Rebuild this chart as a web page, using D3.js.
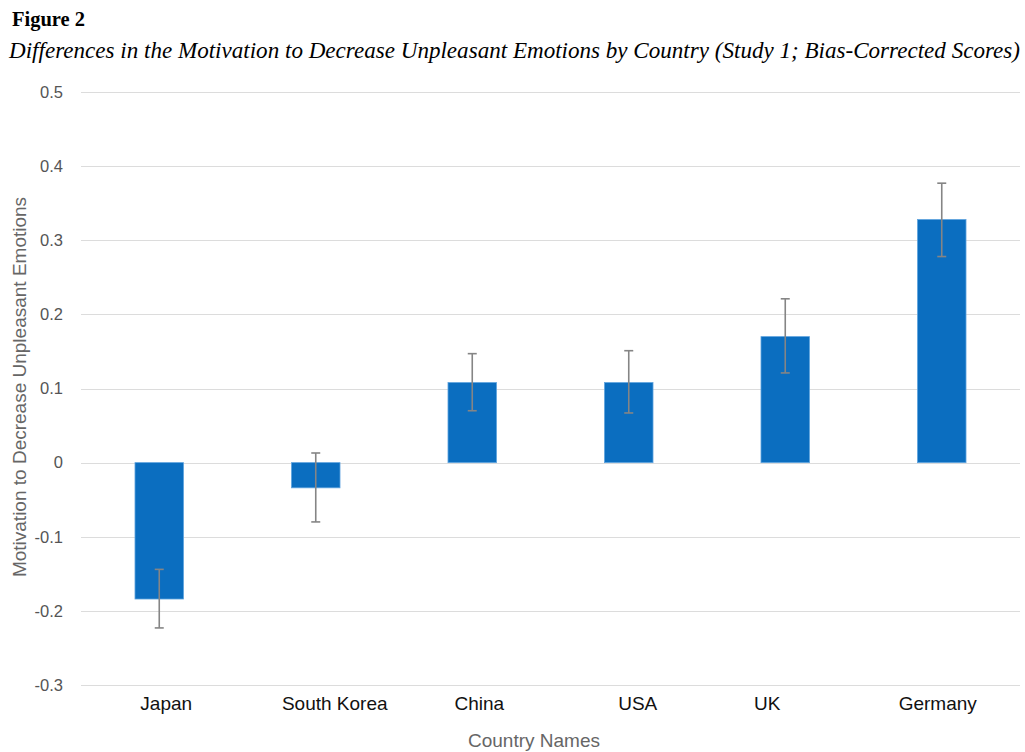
<!DOCTYPE html>
<html>
<head>
<meta charset="utf-8">
<script src="https://cdn.jsdelivr.net/npm/d3@7"></script>
<style>
  body { margin: 0; background: #fff; }
  svg { display: block; }
</style>
</head>
<body>
<div id="chart"></div>
<script>
// values
var countries = ["Japan", "South Korea", "China", "USA", "UK", "Germany"];
var means     = [-0.184, -0.034, 0.108, 0.108, 0.170, 0.328];
var errLow    = [-0.223, -0.080, 0.070, 0.067, 0.121, 0.278];
var errHigh   = [-0.144, 0.013, 0.147, 0.151, 0.221, 0.377];
var yTicks    = [-0.3, -0.2, -0.1, 0, 0.1, 0.2, 0.3, 0.4, 0.5];

var width = 1025, height = 752;

var data = countries.map(function (c, i) {
  return { name: c, value: means[i], lo: errLow[i], hi: errHigh[i] };
});

var svg = d3.select("#chart")
  .append("svg")
  .attr("width", width)
  .attr("height", height);

var x = d3.scaleBand().domain(countries).range([81, 1020]).paddingInner(0.69).paddingOuter(0.345);
var y = d3.scaleLinear().domain([-0.3, 0.5]).range([685, 92]);

// titles
svg.append("text").attr("x", 12).attr("y", 26)
  .style("font-family", "'Liberation Serif', 'Times New Roman', serif")
  .style("font-weight", "bold").style("font-size", "20.5px")
  .text("Figure 2");
svg.append("text").attr("x", 9).attr("y", 58)
  .style("font-family", "'Liberation Serif', 'Times New Roman', serif")
  .style("font-style", "italic").style("font-size", "22.5px")
  .attr("textLength", 1011).attr("lengthAdjust", "spacingAndGlyphs")
  .text("Differences in the Motivation to Decrease Unpleasant Emotions by Country (Study 1; Bias-Corrected Scores)");

// gridlines
svg.append("g").selectAll("line").data(yTicks).join("line")
  .attr("x1", 81).attr("x2", 1020)
  .attr("y1", function (d) { return Math.round(y(d)) + 0.5; })
  .attr("y2", function (d) { return Math.round(y(d)) + 0.5; })
  .attr("stroke", "#dcdcdc").attr("stroke-width", 1);

// y axis labels
var yAxis = d3.axisLeft(y).tickValues(yTicks).tickSize(0).tickPadding(0)
  .tickFormat(function (d) { return String(d); });
var gy = svg.append("g").attr("transform", "translate(63,0)").call(yAxis);
gy.select(".domain").remove();
gy.selectAll("text").style("font-family", "'Liberation Sans', Arial, sans-serif")
  .style("font-size", "16.5px").attr("fill", "#555");

// bars
svg.append("g").selectAll("rect").data(data).join("rect")
  .attr("x", function (d) { return x(d.name); })
  .attr("width", x.bandwidth())
  .attr("y", function (d) { return y(Math.max(0, d.value)); })
  .attr("height", function (d) { return Math.abs(y(d.value) - y(0)); })
  .attr("fill", "#0b6ec0")
  .attr("stroke", "#5fa3de").attr("stroke-width", 0.8);

// error bars
var eb = svg.append("g").attr("stroke", "#858585").attr("stroke-width", 1.6);
eb.selectAll("line.v").data(data).join("line").attr("class", "v")
  .attr("x1", function (d) { return x(d.name) + x.bandwidth() / 2; })
  .attr("x2", function (d) { return x(d.name) + x.bandwidth() / 2; })
  .attr("y1", function (d) { return y(d.lo); })
  .attr("y2", function (d) { return y(d.hi); });
[ "lo", "hi" ].forEach(function (k) {
  eb.selectAll("line.c" + k).data(data).join("line").attr("class", "c" + k)
    .attr("x1", function (d) { return x(d.name) + x.bandwidth() / 2 - 4.5; })
    .attr("x2", function (d) { return x(d.name) + x.bandwidth() / 2 + 4.5; })
    .attr("y1", function (d) { return y(d[k]); })
    .attr("y2", function (d) { return y(d[k]); });
});

// x axis labels (the original's labels sit a little off-centre)
var labelNudge = { "Japan": 7, "South Korea": 19, "China": 7, "USA": 9, "UK": -18, "Germany": -4 };
var xAxis = d3.axisBottom(x).tickSize(0).tickPadding(0);
var gx = svg.append("g").attr("transform", "translate(0,696)").call(xAxis);
gx.select(".domain").remove();
gx.selectAll("text").style("font-family", "'Liberation Sans', Arial, sans-serif")
  .style("font-size", "19px").attr("fill", "#111")
  .attr("dx", function (d) { return labelNudge[d] || 0; });

// axis titles
svg.append("text").attr("x", 534).attr("y", 747).attr("text-anchor", "middle")
  .style("font-family", "'Liberation Sans', Arial, sans-serif")
  .style("font-size", "19px").attr("fill", "#666")
  .text("Country Names");
svg.append("text")
  .attr("transform", "translate(26,387) rotate(-90)")
  .attr("text-anchor", "middle")
  .style("font-family", "'Liberation Sans', Arial, sans-serif")
  .style("font-size", "19px").attr("fill", "#666")
  .text("Motivation to Decrease Unpleasant Emotions");
</script>
</body>
</html>
